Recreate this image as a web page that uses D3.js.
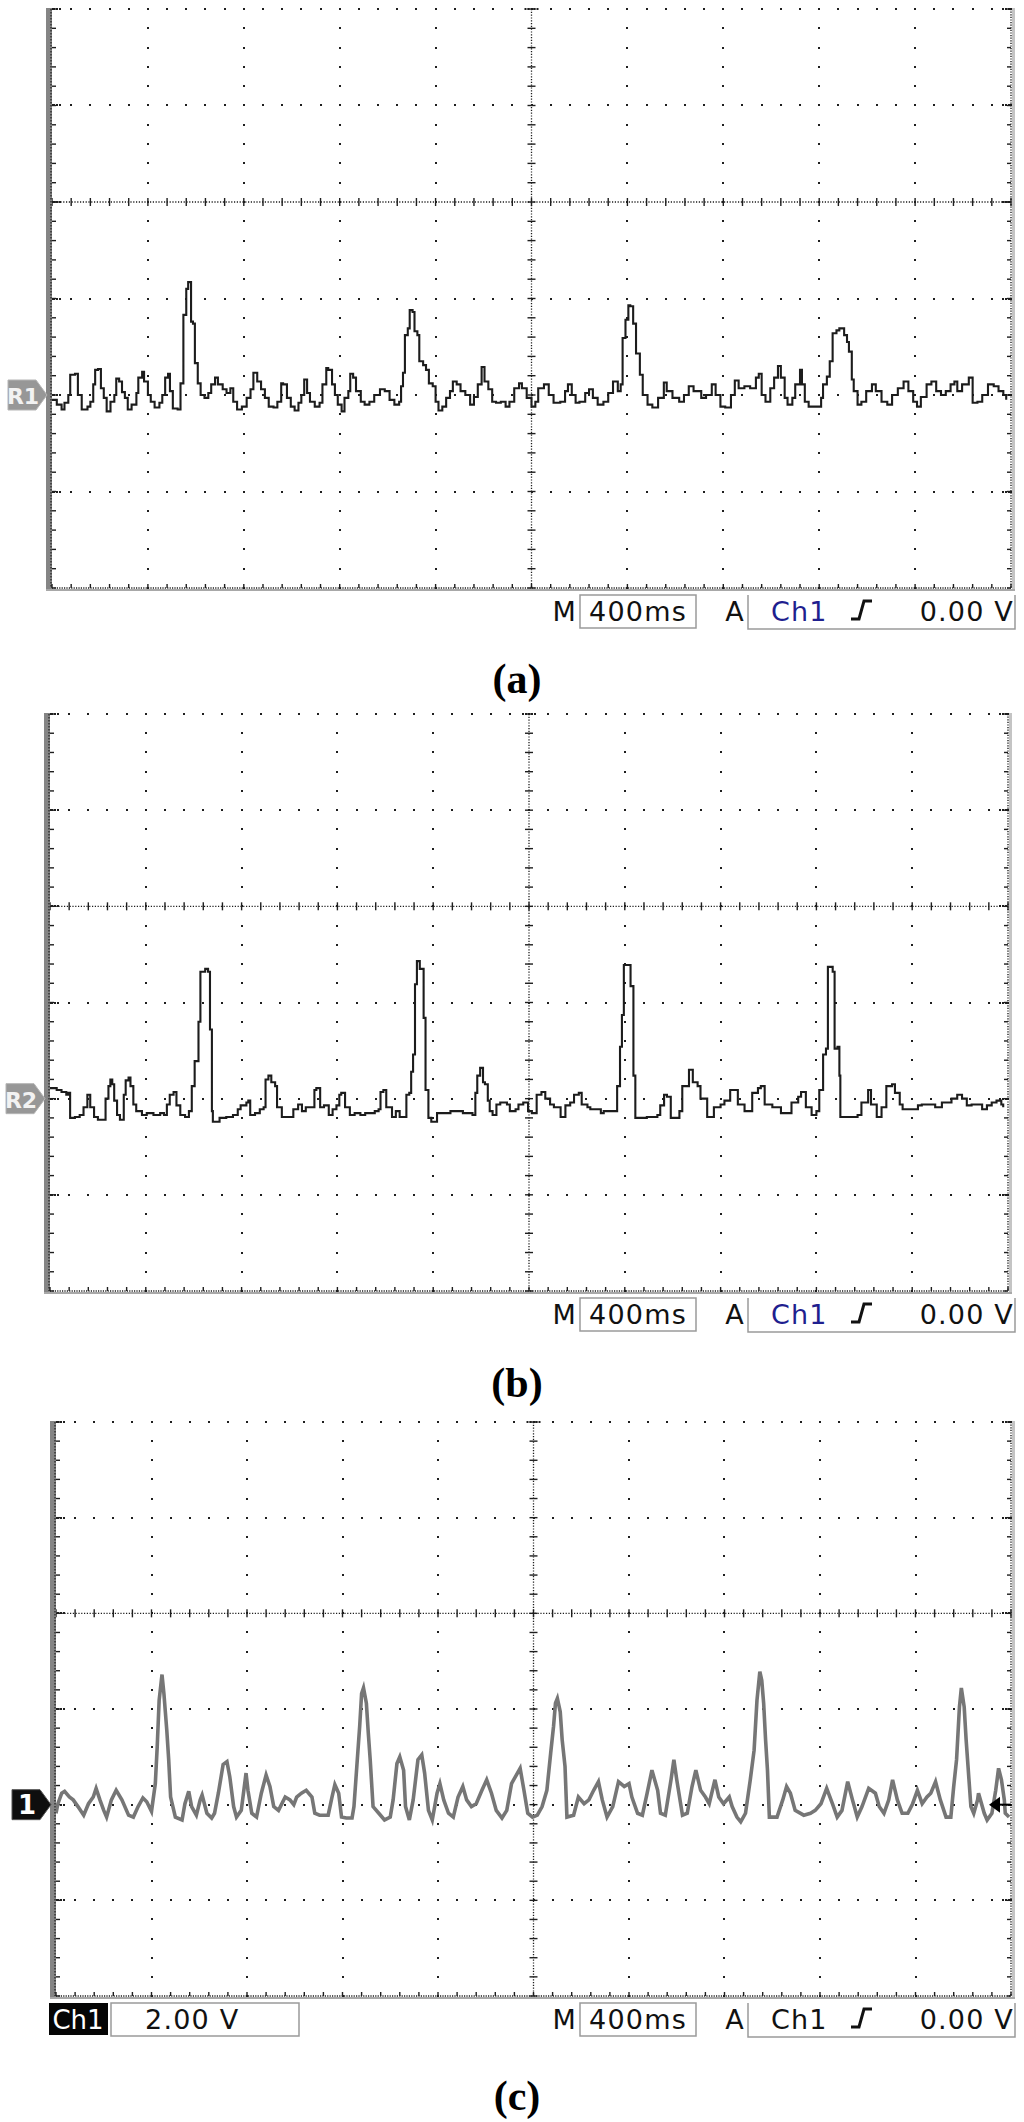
<!DOCTYPE html>
<html><head><meta charset="utf-8">
<script src="https://cdn.jsdelivr.net/npm/d3@7"></script>
<style>body{margin:0;background:#fff}</style>
</head><body>
<svg id="chart" width="1024" height="2122" xmlns="http://www.w3.org/2000/svg"></svg>
<script>
// ---------------- DATA ----------------
// time in screen divisions (400 ms/div), value in divisions relative to the reference marker
const timeDivs = [0, 10];
const vertDivs = [-4, 2];          // visible graticule rows relative to centre line
const markerLevel = -2;            // reference marker row (divisions)
const timebase = "400ms";
const triggerSource = "Ch1";
const triggerLevel = "0.00 V";
const ch1Scale = "2.00 V";
const markerNames = ["R1", "R2", "1"];
const captions = ["(a)", "(b)", "(c)"];

const traceA = [
[0.00,-0.05],[0.05,-0.10],[0.10,-0.15],[0.13,-0.08],[0.17,0.00],[0.19,0.21],[0.24,0.22],[0.27,0.00],[0.31,-0.15],[0.37,-0.12],[0.40,-0.07],[0.43,0.11],[0.45,0.26],[0.48,0.27],[0.51,0.07],[0.54,-0.03],[0.57,-0.17],[0.61,-0.07],[0.65,0.00],[0.67,0.17],[0.70,0.14],[0.73,0.03],[0.76,-0.03],[0.79,-0.15],[0.83,-0.10],[0.88,0.02],[0.90,0.18],[0.94,0.24],[0.96,0.14],[1.00,0.00],[1.03,-0.07],[1.07,-0.13],[1.12,-0.08],[1.15,0.00],[1.18,0.18],[1.21,0.22],[1.23,0.04],[1.26,-0.14],[1.31,-0.15],[1.34,0.12],[1.37,0.83],[1.40,1.10],[1.42,1.17],[1.45,0.76],[1.47,0.74],[1.49,0.33],[1.52,0.12],[1.55,0.00],[1.59,-0.03],[1.63,0.02],[1.66,0.11],[1.70,0.18],[1.73,0.11],[1.78,0.06],[1.82,0.02],[1.86,0.07],[1.89,-0.07],[1.93,-0.15],[1.98,-0.12],[2.03,-0.03],[2.07,0.06],[2.10,0.23],[2.14,0.14],[2.18,0.06],[2.22,-0.03],[2.26,-0.12],[2.31,-0.13],[2.35,-0.07],[2.39,0.12],[2.41,0.11],[2.45,-0.03],[2.49,-0.12],[2.53,-0.16],[2.57,-0.08],[2.60,0.00],[2.63,0.16],[2.66,0.02],[2.69,-0.07],[2.74,-0.12],[2.79,-0.08],[2.82,0.11],[2.86,0.28],[2.88,0.26],[2.92,0.11],[2.95,0.00],[2.98,-0.10],[3.02,-0.17],[3.05,-0.03],[3.09,0.04],[3.11,0.22],[3.14,0.18],[3.17,0.04],[3.22,-0.07],[3.26,-0.10],[3.31,-0.07],[3.36,0.00],[3.42,0.06],[3.47,0.04],[3.52,-0.05],[3.57,-0.10],[3.62,-0.07],[3.64,0.09],[3.66,0.23],[3.68,0.62],[3.71,0.69],[3.73,0.88],[3.76,0.86],[3.78,0.66],[3.81,0.62],[3.83,0.35],[3.87,0.31],[3.90,0.26],[3.93,0.12],[3.97,0.09],[4.00,-0.07],[4.03,-0.16],[4.07,-0.12],[4.11,-0.03],[4.15,0.04],[4.18,0.14],[4.22,0.11],[4.26,0.04],[4.31,0.00],[4.36,-0.10],[4.40,-0.02],[4.44,0.11],[4.48,0.29],[4.51,0.14],[4.55,0.06],[4.59,-0.07],[4.63,-0.08],[4.68,-0.07],[4.73,-0.12],[4.77,-0.07],[4.82,0.07],[4.87,0.12],[4.90,0.07],[4.95,-0.03],[5.00,-0.12],[5.04,-0.07],[5.07,0.07],[5.13,0.11],[5.18,0.00],[5.23,-0.08],[5.30,-0.07],[5.35,0.04],[5.38,0.11],[5.42,0.00],[5.46,-0.08],[5.50,-0.07],[5.56,0.02],[5.60,0.06],[5.64,-0.03],[5.69,-0.10],[5.75,-0.07],[5.80,0.02],[5.85,0.14],[5.90,0.04],[5.93,0.11],[5.95,0.59],[5.98,0.78],[6.01,0.93],[6.03,0.92],[6.06,0.74],[6.09,0.43],[6.13,0.21],[6.16,0.00],[6.21,-0.10],[6.26,-0.13],[6.32,-0.03],[6.38,0.13],[6.41,0.04],[6.47,-0.03],[6.54,-0.07],[6.59,0.00],[6.64,0.09],[6.69,0.04],[6.77,-0.03],[6.82,0.00],[6.88,0.11],[6.92,0.00],[6.97,-0.12],[7.02,-0.13],[7.08,0.00],[7.12,0.15],[7.16,0.07],[7.22,0.09],[7.28,0.07],[7.34,0.18],[7.37,0.22],[7.40,0.00],[7.44,-0.07],[7.49,0.07],[7.53,0.18],[7.57,0.30],[7.60,0.18],[7.64,-0.03],[7.67,-0.10],[7.72,-0.03],[7.75,0.11],[7.80,0.26],[7.82,0.11],[7.85,-0.07],[7.89,-0.12],[7.96,-0.12],[8.02,-0.03],[8.04,0.11],[8.08,0.19],[8.11,0.35],[8.14,0.64],[8.18,0.67],[8.21,0.69],[8.26,0.62],[8.29,0.55],[8.31,0.45],[8.34,0.16],[8.36,0.04],[8.40,-0.10],[8.44,-0.07],[8.49,0.04],[8.55,0.11],[8.59,0.04],[8.65,-0.07],[8.71,-0.10],[8.76,0.00],[8.82,0.07],[8.88,0.14],[8.93,0.04],[8.98,-0.07],[9.02,-0.12],[9.06,-0.02],[9.12,0.11],[9.17,0.14],[9.22,0.04],[9.27,0.00],[9.32,0.04],[9.37,0.11],[9.41,0.14],[9.44,0.04],[9.49,0.11],[9.56,0.18],[9.60,-0.08],[9.65,-0.07],[9.70,0.00],[9.76,0.11],[9.82,0.09],[9.87,0.04],[9.92,0.00],[9.95,-0.05]
];

const traceB = [
[0.00,0.11],[0.07,0.09],[0.12,0.07],[0.17,0.04],[0.19,0.06],[0.21,-0.20],[0.26,-0.19],[0.31,-0.17],[0.35,-0.09],[0.39,0.04],[0.42,-0.09],[0.46,-0.19],[0.50,-0.22],[0.56,-0.22],[0.58,0.00],[0.61,0.13],[0.63,0.20],[0.65,0.15],[0.67,-0.02],[0.70,-0.17],[0.73,-0.22],[0.77,0.04],[0.79,0.19],[0.82,0.22],[0.84,0.13],[0.87,-0.06],[0.90,-0.13],[0.96,-0.17],[1.01,-0.15],[1.08,-0.17],[1.15,-0.15],[1.19,-0.17],[1.22,-0.06],[1.25,0.04],[1.29,0.07],[1.32,-0.07],[1.36,-0.17],[1.41,-0.19],[1.45,-0.13],[1.48,0.13],[1.51,0.39],[1.55,0.80],[1.57,1.32],[1.62,1.35],[1.65,1.32],[1.67,0.72],[1.69,-0.13],[1.70,-0.24],[1.77,-0.20],[1.84,-0.19],[1.91,-0.17],[1.96,-0.11],[1.99,-0.07],[2.05,-0.04],[2.07,-0.02],[2.09,-0.17],[2.14,-0.15],[2.19,-0.11],[2.23,-0.09],[2.25,0.20],[2.28,0.24],[2.31,0.17],[2.35,0.13],[2.37,-0.09],[2.42,-0.19],[2.49,-0.19],[2.54,-0.11],[2.59,-0.06],[2.63,-0.13],[2.67,-0.09],[2.71,-0.09],[2.76,0.09],[2.78,0.11],[2.82,-0.09],[2.86,-0.07],[2.91,-0.17],[2.95,-0.11],[2.99,-0.07],[3.02,0.04],[3.04,0.06],[3.08,-0.09],[3.13,-0.17],[3.18,-0.15],[3.24,-0.17],[3.29,-0.15],[3.34,-0.15],[3.39,-0.13],[3.43,-0.11],[3.45,0.07],[3.48,0.09],[3.51,-0.09],[3.57,-0.19],[3.61,-0.13],[3.65,-0.19],[3.70,-0.19],[3.72,0.04],[3.75,0.06],[3.77,0.28],[3.79,0.46],[3.81,1.19],[3.83,1.43],[3.86,1.35],[3.88,1.35],[3.90,0.84],[3.92,0.09],[3.95,-0.20],[3.98,-0.24],[4.04,-0.15],[4.11,-0.15],[4.18,-0.13],[4.24,-0.13],[4.31,-0.15],[4.37,-0.15],[4.41,-0.17],[4.44,0.06],[4.46,0.24],[4.49,0.32],[4.52,0.17],[4.54,0.15],[4.57,-0.02],[4.59,-0.13],[4.62,-0.17],[4.66,-0.06],[4.70,-0.04],[4.77,-0.06],[4.80,-0.13],[4.86,-0.11],[4.89,-0.06],[4.94,-0.04],[4.99,-0.13],[5.03,-0.15],[5.08,0.04],[5.13,0.07],[5.17,0.00],[5.22,-0.06],[5.26,-0.09],[5.33,-0.19],[5.38,-0.07],[5.43,-0.04],[5.47,0.04],[5.52,0.06],[5.55,-0.06],[5.61,-0.09],[5.64,-0.11],[5.75,-0.15],[5.78,-0.13],[5.89,-0.13],[5.92,0.13],[5.95,0.54],[5.97,0.87],[5.99,1.39],[6.03,1.39],[6.06,1.17],[6.09,0.24],[6.11,-0.20],[6.15,-0.20],[6.23,-0.19],[6.34,-0.17],[6.37,-0.07],[6.41,0.04],[6.44,0.02],[6.48,-0.20],[6.51,-0.20],[6.57,-0.13],[6.60,0.13],[6.64,0.13],[6.67,0.30],[6.71,0.17],[6.76,0.13],[6.79,0.00],[6.83,0.00],[6.86,-0.19],[6.93,-0.09],[7.00,-0.06],[7.04,-0.02],[7.10,0.09],[7.14,0.09],[7.18,-0.06],[7.25,-0.13],[7.28,-0.13],[7.33,0.06],[7.39,0.11],[7.42,0.13],[7.46,-0.06],[7.54,-0.09],[7.60,-0.09],[7.63,-0.15],[7.70,-0.15],[7.74,-0.04],[7.81,0.02],[7.84,0.07],[7.89,-0.09],[7.95,-0.17],[8.00,-0.13],[8.03,0.09],[8.07,0.46],[8.10,0.52],[8.12,1.37],[8.16,1.37],[8.17,1.32],[8.19,0.52],[8.22,0.54],[8.24,0.24],[8.25,-0.19],[8.28,-0.19],[8.43,-0.17],[8.47,-0.04],[8.50,-0.04],[8.54,0.09],[8.57,-0.06],[8.63,-0.19],[8.68,-0.09],[8.73,0.13],[8.79,0.15],[8.82,0.06],[8.87,-0.06],[8.90,-0.11],[9.06,-0.07],[9.10,-0.06],[9.24,-0.09],[9.31,-0.04],[9.41,0.00],[9.47,0.04],[9.52,0.00],[9.57,-0.07],[9.62,-0.06],[9.73,-0.11],[9.78,-0.07],[9.83,-0.04],[9.88,-0.02],[9.93,-0.06],[9.95,-0.09]
];

const traceC = [
[0.00,-0.09],[0.02,0.01],[0.06,0.12],[0.09,0.14],[0.14,0.08],[0.18,0.05],[0.23,-0.02],[0.29,-0.11],[0.34,0.01],[0.39,0.08],[0.42,0.17],[0.46,0.05],[0.50,-0.06],[0.53,-0.13],[0.58,0.05],[0.63,0.15],[0.69,0.05],[0.76,-0.11],[0.81,-0.13],[0.86,-0.02],[0.91,0.07],[0.95,0.03],[1.00,-0.07],[1.04,0.22],[1.06,0.61],[1.08,1.09],[1.11,1.36],[1.13,1.16],[1.16,0.78],[1.18,0.47],[1.20,0.08],[1.25,-0.13],[1.32,-0.16],[1.35,0.01],[1.39,0.14],[1.42,-0.02],[1.47,-0.11],[1.51,0.05],[1.53,0.10],[1.58,-0.09],[1.63,-0.14],[1.66,-0.09],[1.70,0.12],[1.75,0.42],[1.79,0.45],[1.82,0.29],[1.86,-0.02],[1.89,-0.13],[1.94,-0.06],[1.99,0.33],[2.01,0.15],[2.05,-0.09],[2.10,-0.13],[2.15,0.12],[2.20,0.31],[2.24,0.19],[2.28,-0.02],[2.33,-0.06],[2.40,0.08],[2.45,0.05],[2.49,0.00],[2.52,0.08],[2.57,0.12],[2.62,0.15],[2.68,0.08],[2.71,-0.09],[2.76,-0.11],[2.85,-0.11],[2.89,0.08],[2.92,0.21],[2.96,0.12],[2.99,-0.13],[3.04,-0.14],[3.10,-0.14],[3.12,-0.02],[3.15,0.40],[3.18,0.82],[3.20,1.16],[3.22,1.22],[3.25,1.06],[3.27,0.75],[3.29,0.47],[3.32,-0.02],[3.38,-0.09],[3.44,-0.16],[3.50,-0.13],[3.53,0.05],[3.57,0.43],[3.60,0.50],[3.64,0.36],[3.66,-0.02],[3.70,-0.16],[3.74,0.05],[3.79,0.47],[3.83,0.52],[3.86,0.33],[3.90,-0.06],[3.94,-0.16],[3.99,0.12],[4.02,0.22],[4.06,0.05],[4.11,-0.09],[4.16,-0.13],[4.21,0.08],[4.26,0.19],[4.30,0.05],[4.35,-0.02],[4.40,0.01],[4.46,0.15],[4.51,0.26],[4.56,0.12],[4.61,-0.06],[4.67,-0.14],[4.72,-0.06],[4.77,0.22],[4.82,0.31],[4.86,0.38],[4.90,0.15],[4.94,-0.09],[4.99,-0.13],[5.04,-0.11],[5.09,-0.02],[5.14,0.15],[5.18,0.54],[5.21,0.82],[5.23,1.06],[5.25,1.11],[5.28,0.97],[5.30,0.68],[5.33,0.40],[5.35,-0.13],[5.42,-0.11],[5.47,0.08],[5.53,0.01],[5.58,0.05],[5.63,0.15],[5.68,0.24],[5.72,0.05],[5.77,-0.13],[5.83,-0.02],[5.89,0.24],[5.95,0.19],[6.00,0.22],[6.03,0.08],[6.09,-0.09],[6.14,-0.11],[6.19,0.12],[6.24,0.36],[6.30,0.15],[6.33,-0.09],[6.38,-0.11],[6.44,0.26],[6.47,0.47],[6.50,0.26],[6.56,-0.11],[6.61,-0.09],[6.66,0.19],[6.70,0.36],[6.75,0.15],[6.80,0.08],[6.84,0.01],[6.90,0.26],[6.94,0.08],[6.99,0.01],[7.05,0.08],[7.08,-0.02],[7.13,-0.13],[7.17,-0.18],[7.22,-0.09],[7.27,0.26],[7.31,0.57],[7.34,1.09],[7.37,1.39],[7.39,1.30],[7.41,1.06],[7.43,0.68],[7.45,0.36],[7.47,-0.13],[7.55,-0.13],[7.61,0.05],[7.65,0.19],[7.69,0.12],[7.74,-0.06],[7.83,-0.11],[7.90,-0.09],[7.95,-0.06],[8.01,0.01],[8.07,0.17],[8.13,0.01],[8.18,-0.13],[8.23,-0.06],[8.29,0.24],[8.34,0.05],[8.39,-0.13],[8.44,-0.02],[8.51,0.17],[8.58,0.12],[8.62,-0.02],[8.67,-0.09],[8.72,0.05],[8.76,0.26],[8.81,0.05],[8.86,-0.09],[8.92,-0.09],[8.97,0.01],[9.02,0.15],[9.07,0.01],[9.12,0.08],[9.16,0.12],[9.21,0.24],[9.26,0.05],[9.32,-0.13],[9.37,-0.13],[9.40,0.19],[9.43,0.47],[9.46,1.02],[9.48,1.22],[9.51,1.02],[9.53,0.68],[9.55,0.40],[9.58,-0.02],[9.61,-0.09],[9.65,0.05],[9.66,0.12],[9.72,-0.09],[9.75,-0.16],[9.80,-0.09],[9.84,0.15],[9.87,0.38],[9.90,0.26],[9.93,0.05],[9.94,-0.09],[9.98,-0.13]
];

// ---------------- LAYOUT ----------------
const panels = [
  {x0:52, x1:1011, y0:9,    y1:588,  data:traceA, marker:markerNames[0], tag:"ref",  color:"#1c1c1c", width:2.1, step:true,  chColor:"#1f1f8f", chBox:false, cap:captions[0], capY:693},
  {x0:50, x1:1008, y0:714,  y1:1291, data:traceB, marker:markerNames[1], tag:"ref",  color:"#1c1c1c", width:2.1, step:true,  chColor:"#1f1f8f", chBox:false, cap:captions[1], capY:1397},
  {x0:56, x1:1011, y0:1422, y1:1996, data:traceC, marker:markerNames[2], tag:"live", color:"#767676", width:3.6, step:false, chColor:"#111",    chBox:true,  cap:captions[2], capY:2110}
];

const svg = d3.select("#chart");
const FONT = "DejaVu Sans, Verdana, sans-serif";
const INK = "#1e1e1e";

panels.forEach((p, pi) => {
  const x = d3.scaleLinear().domain(timeDivs).range([p.x0, p.x1]);
  const y = d3.scaleLinear().domain(vertDivs).range([p.y1, p.y0]);
  const g = svg.append("g");
  const minorX = d3.range(timeDivs[0], timeDivs[1] + 1e-6, 0.2);
  const minorY = d3.range(vertDivs[0], vertDivs[1] + 1e-6, 0.2);
  const majX = d3.range(1, 10);
  const majY = d3.range(-3, 3); // -3..2 (2 = top edge)

  // graticule dots
  const dots = [];
  majX.filter(v => v !== 5).forEach(mx => minorY.forEach(my => dots.push([x(mx), y(my)])));
  majY.filter(v => v !== 0).forEach(my => minorX.forEach(mx => dots.push([x(mx), y(my)])));
  majY.forEach(my => { [2,5,8].forEach(o => { dots.push([p.x0 + o, y(my)]); dots.push([p.x1 - o, y(my)]); }); });
  g.append("g").selectAll("rect").data(dots).join("rect")
    .attr("x", d => Math.round(d[0] - 1)).attr("y", d => Math.round(d[1] - 1))
    .attr("width", 2).attr("height", 2).attr("fill", INK);

  // centre lines (dense) with ticks
  g.append("line").attr("x1", x(5)).attr("x2", x(5)).attr("y1", p.y0).attr("y2", p.y1)
    .attr("stroke", INK).attr("stroke-width", 1.3).attr("stroke-dasharray", "1.2,1.6");
  g.append("line").attr("x1", p.x0).attr("x2", p.x1).attr("y1", y(0)).attr("y2", y(0))
    .attr("stroke", INK).attr("stroke-width", 1.3).attr("stroke-dasharray", "1.2,1.6");
  g.append("g").selectAll("line").data(minorY).join("line")
    .attr("x1", x(5) - 4).attr("x2", x(5) + 4).attr("y1", d => y(d)).attr("y2", d => y(d))
    .attr("stroke", INK).attr("stroke-width", 1.4);
  g.append("g").selectAll("line").data(minorX).join("line")
    .attr("y1", y(0) - 4).attr("y2", y(0) + 4).attr("x1", d => x(d)).attr("x2", d => x(d))
    .attr("stroke", INK).attr("stroke-width", 1.4);

  // left border: grey bar with ticks
  g.append("rect").attr("x", p.x0 - 6).attr("y", p.y0 - 1).attr("width", 6).attr("height", p.y1 - p.y0 + 2)
    .attr("fill", "#858585");
  g.append("line").attr("x1", p.x0 - 1).attr("x2", p.x0 - 1).attr("y1", p.y0).attr("y2", p.y1)
    .attr("stroke", "#333").attr("stroke-width", 1.5).attr("stroke-dasharray", "1.5,1.5");
  g.append("g").selectAll("line").data(minorY).join("line")
    .attr("x1", p.x0).attr("x2", p.x0 + 4).attr("y1", d => y(d)).attr("y2", d => y(d))
    .attr("stroke", INK).attr("stroke-width", 1.4);

  // right border
  g.append("rect").attr("x", p.x1 + 1).attr("y", p.y0 - 1).attr("width", 3).attr("height", p.y1 - p.y0 + 2)
    .attr("fill", "#c4c4c4");
  g.append("line").attr("x1", p.x1).attr("x2", p.x1).attr("y1", p.y0).attr("y2", p.y1)
    .attr("stroke", INK).attr("stroke-width", 1.4).attr("stroke-dasharray", "1.2,1.4");
  g.append("g").selectAll("line").data(minorY).join("line")
    .attr("x1", p.x1 - 4).attr("x2", p.x1).attr("y1", d => y(d)).attr("y2", d => y(d))
    .attr("stroke", INK).attr("stroke-width", 1.4);

  // bottom border
  g.append("rect").attr("x", p.x0 - 6).attr("y", p.y1 + 1).attr("width", p.x1 - p.x0 + 10).attr("height", 2)
    .attr("fill", "#a8a8a8");
  g.append("line").attr("x1", p.x0).attr("x2", p.x1).attr("y1", p.y1).attr("y2", p.y1)
    .attr("stroke", INK).attr("stroke-width", 1.6).attr("stroke-dasharray", "1.2,1.2");
  g.append("g").selectAll("line").data(minorX).join("line")
    .attr("y1", p.y1 - 4).attr("y2", p.y1).attr("x1", d => x(d)).attr("x2", d => x(d))
    .attr("stroke", INK).attr("stroke-width", 1.4);

  [ -6, -3, 3, 6 ].forEach(o => g.append("rect").attr("x", x(5) + o - 1).attr("y", p.y0 - 1).attr("width", 2).attr("height", 2).attr("fill", INK));

  // trace
  const clipId = "clip" + pi;
  svg.append("clipPath").attr("id", clipId).append("rect")
    .attr("x", p.x0).attr("y", p.y0).attr("width", p.x1 - p.x0).attr("height", p.y1 - p.y0);
  const line = d3.line().x(d => x(d[0])).y(d => y(d[1] + markerLevel))
    .curve(p.step ? d3.curveStepAfter : d3.curveLinear);
  g.append("path").datum(p.data).attr("d", line).attr("clip-path", `url(#${clipId})`)
    .attr("fill", "none").attr("stroke", p.color).attr("stroke-width", p.width)
    .attr("stroke-linejoin", "miter");

  // reference marker tag
  const ym = y(markerLevel);
  const tipX = p.x0 - 5, leftX = p.x0 - 44, h = 15;
  g.append("path")
    .attr("d", `M${leftX},${ym - h} H${tipX - 11} L${tipX},${ym} L${tipX - 11},${ym + h} H${leftX} Z`)
    .attr("fill", p.tag === "ref" ? "#979797" : "#0e0e0e")
    .attr("stroke", p.tag === "ref" ? "#b5b5b5" : "#555").attr("stroke-width", 1);
  g.append("text").attr("x", (leftX + tipX - 9) / 2).attr("y", ym + 9)
    .attr("text-anchor", "middle").attr("font-family", FONT).attr("font-weight", "bold")
    .attr("font-size", p.tag === "ref" ? 22 : 26).attr("fill", p.tag === "ref" ? "#f2f2f2" : "#fff")
    .text(p.marker);

  if (p.tag === "live") {
    g.append("path").attr("d", `M${p.x1 - 22},${ym} L${p.x1 - 11},${ym - 8} L${p.x1 - 11},${ym + 8} Z`).attr("fill", "#000");
    g.append("line").attr("x1", p.x1 - 12).attr("x2", p.x1).attr("y1", ym).attr("y2", ym)
      .attr("stroke", "#000").attr("stroke-width", 2);
  }

  // readout row
  const yb = p.y1, base = yb + 33;
  const txt = (s, xx, anchor, col) => g.append("text").attr("x", xx).attr("y", base)
    .attr("text-anchor", anchor).attr("font-family", FONT).attr("font-size", 27)
    .attr("letter-spacing", 1.2).attr("fill", col || "#111").text(s);
  if (p.chBox) {
    g.append("rect").attr("x", 49).attr("y", yb + 7).attr("width", 59).attr("height", 32).attr("fill", "#050505");
    g.append("text").attr("x", 78).attr("y", base).attr("text-anchor", "middle").attr("font-family", FONT)
      .attr("font-size", 26).attr("fill", "#fff").text(triggerSource);
    g.append("rect").attr("x", 111).attr("y", yb + 7).attr("width", 188).attr("height", 33)
      .attr("fill", "none").attr("stroke", "#9a9a9a").attr("stroke-width", 1.5);
    txt(ch1Scale, 145, "start");
  }
  txt("M", 577, "end");
  g.append("rect").attr("x", 580).attr("y", yb + 7).attr("width", 116).attr("height", 33)
    .attr("fill", "none").attr("stroke", "#9a9a9a").attr("stroke-width", 1.5);
  txt(timebase, 589, "start");
  txt("A", 745, "end");
  g.append("path").attr("d", `M748,${yb + 7} V${yb + 41} H1015 V${yb + 7}`)
    .attr("fill", "none").attr("stroke", "#9a9a9a").attr("stroke-width", 1.5);
  txt(triggerSource, 771, "start", p.chColor);
  g.append("path").attr("d", `M851,${yb + 31} h8 l5,-18 h8`).attr("fill", "none")
    .attr("stroke", "#111").attr("stroke-width", 3);
  txt(triggerLevel, 1014, "end");

  // caption
  svg.append("text").attr("x", 517).attr("y", p.capY).attr("text-anchor", "middle")
    .attr("font-family", "Liberation Serif, Times New Roman, serif").attr("font-size", 42)
    .attr("font-weight", "bold").attr("fill", "#000").text(p.cap);
});
</script>
</body></html>
